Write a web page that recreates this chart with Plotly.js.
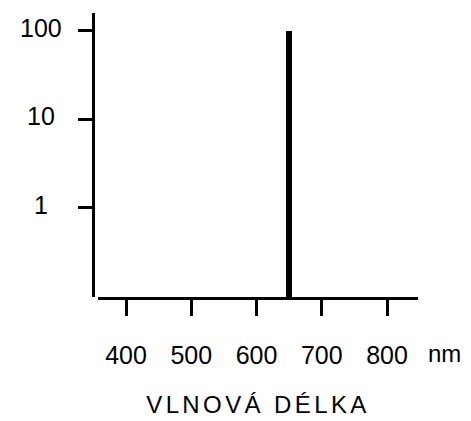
<!DOCTYPE html>
<html>
<head>
<meta charset="utf-8">
<script src="https://cdn.plot.ly/plotly-3.0.1.min.js"></script>
<style>
html,body{margin:0;padding:0;background:#fff;}
.xtitle{letter-spacing:3.4px;}
</style>
</head>
<body>
<div id="chart" style="width:471px;height:421px;"></div>
<script>
// Data
var wavelengths = [650];
var intensities = [100];
var xTickValues = [400, 500, 600, 700, 800];
var xTickLabels = ['400', '500', '600', '700', '800'];
var yTickValues = [1, 10, 100];
var yTickLabels = ['1', '10', '100'];
var xUnit = 'nm';
var xTitle = 'VLNOVÁ DÉLKA';

var FONT = 'Liberation Sans, Arial, sans-serif';

var trace = {
  type: 'bar',
  x: wavelengths,
  y: intensities,
  width: 9,
  marker: {color: '#000', line: {width: 0}},
  hoverinfo: 'skip'
};

var annotations = yTickValues.map(function (v, i) {
  return {
    xref: 'paper', yref: 'y',
    x: -0.16, y: Math.log10(v),
    text: yTickLabels[i],
    showarrow: false,
    xanchor: 'center', yanchor: 'middle',
    yshift: 3,
    font: {family: FONT, size: 25, color: '#000'}
  };
});
annotations.push({
  xref: 'paper', yref: 'paper',
  x: 1.083, y: -0.2,
  text: xUnit, showarrow: false,
  xanchor: 'center', yanchor: 'middle',
  font: {family: FONT, size: 24, color: '#000'}
});

var layout = {
  width: 471, height: 421,
  margin: {l: 93, r: 53, t: 13, b: 124},
  paper_bgcolor: '#fff', plot_bgcolor: '#fff',
  showlegend: false,
  bargap: 0,
  xaxis: {
    domain: [5 / 325, 1],
    range: [357, 847.5],
    tickvals: xTickValues,
    ticktext: xTickLabels,
    ticks: 'outside', ticklen: 16, tickwidth: 3, tickcolor: '#000',
    ticklabelstandoff: 18,
    showline: true, linewidth: 3, linecolor: '#000',
    showgrid: false, zeroline: false,
    tickfont: {family: FONT, size: 25, color: '#000'},
    title: {text: xTitle, standoff: 29, font: {family: FONT, size: 24, color: '#000'}},
    fixedrange: true
  },
  yaxis: {
    type: 'log',
    anchor: 'free', position: 0,
    range: [-1.011, 2.198],
    tickvals: yTickValues,
    ticks: 'outside', ticklen: 14, tickwidth: 3, tickcolor: '#000',
    showticklabels: false,
    showline: true, linewidth: 3, linecolor: '#000',
    showgrid: false, zeroline: false,
    fixedrange: true
  },
  annotations: annotations
};

Plotly.newPlot('chart', [trace], layout, {displayModeBar: false, staticPlot: true});
</script>
</body>
</html>
